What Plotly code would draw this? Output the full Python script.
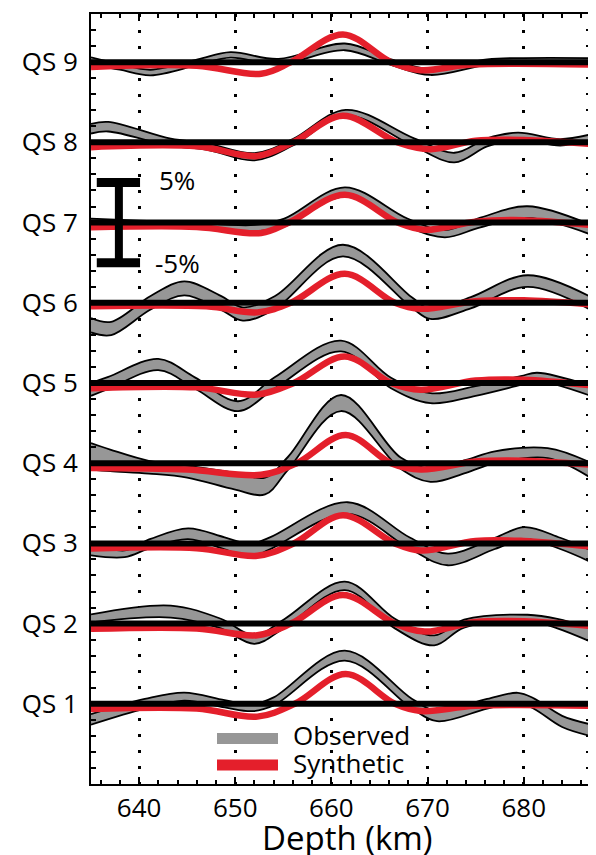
import plotly.graph_objects as go

# ---------------- data (depth in km, amplitude in %) ----------------
DEPTH_RANGE = [635, 687]
X_TICKS = [640, 650, 660, 670, 680]
QS_LABELS = ["QS 1", "QS 2", "QS 3", "QS 4", "QS 5", "QS 6", "QS 7", "QS 8", "QS 9"]
QS_OFFSETS = [10, 20, 30, 40, 50, 60, 70, 80, 90]
SCALE_BAR = [-5, 5]

# QS 1
QS1_OBS_KM = [635, 640.6, 644.7, 648.9, 651.8, 654, 661.4, 668.4, 671.0, 676.2, 679.4, 681.1, 684, 687]
QS1_OBS_PCT = [-1.95, 0, 0.9, 0, -0.5, 0.3, 6.0, 0, -1.55, 0, 0.75, 0, -2.2, -3.3]
QS1_OBS_HW = [0.65, 0.6, 0.5, 0.45, 0.42, 0.5, 0.62, 0.6, 0.62, 0.6, 0.62, 0.65, 0.7, 0.73]
QS1_SYN_KM = [635, 646, 652.3, 656.2, 661.5, 666.6, 669.3, 675, 687]
QS1_SYN_PCT = [-0.65, -0.6, -1.6, 0, 3.7, 0, -0.9, -0.25, -0.25]

# QS 2
QS2_OBS_KM = [635, 643.3, 648.5, 652.0, 655.1, 661.4, 666.6, 670.7, 673.8, 680.4, 683.5, 687]
QS2_OBS_PCT = [0.65, 1.5, 0, -2.0, 0, 4.7, 0, -2.1, 0, 0.75, 0, -1.45]
QS2_OBS_HW = [0.5, 0.75, 0.6, 0.52, 0.55, 0.52, 0.6, 0.62, 0.5, 0.35, 0.6, 0.83]
QS2_SYN_KM = [635, 646, 652.3, 655.8, 661.2, 666.6, 669.7, 675, 680, 687]
QS2_SYN_PCT = [-0.65, -0.6, -1.45, 0, 3.55, 0, -1.0, 0.2, 0.3, -0.3]

# QS 3
QS3_OBS_KM = [635, 638.5, 641.2, 645.1, 648.9, 651.6, 653.6, 661.7, 668.2, 672.1, 677, 680.1, 683.8, 687]
QS3_OBS_PCT = [-0.7, -1.3, 0, 1.2, 0, -0.9, 0, 4.4, 0, -2.0, 0, 1.3, 0, -1.6]
QS3_OBS_HW = [0.8, 0.42, 0.55, 0.67, 0.75, 0.83, 0.75, 0.73, 0.7, 0.73, 0.7, 0.73, 0.7, 0.73]
QS3_SYN_KM = [635, 646, 652.3, 656.1, 661.2, 666.6, 669.3, 675, 680, 687]
QS3_SYN_PCT = [-0.65, -0.6, -1.55, 0, 3.5, 0, -0.9, 0.3, 0.3, -0.4]

# QS 4
QS4_OBS_KM = [635, 637, 641, 645, 650, 653.1, 655.5, 661.0, 667.2, 670.3, 674, 677, 682.5, 687]
QS4_OBS_PCT = [0.85, 0.35, -0.5, -1.05, -2.25, -2.85, 0, 7.5, 0, -1.5, -0.4, 0.75, 1.25, -0.9]
QS4_OBS_HW = [1.65, 1.35, 0.8, 0.75, 1.05, 1.05, 0.8, 1.0, 0.7, 0.83, 0.8, 0.73, 0.62, 0.94]
QS4_SYN_KM = [635, 645, 652.7, 656.4, 661.5, 666.2, 669.3, 675, 680, 687]
QS4_SYN_PCT = [-0.6, -0.8, -1.45, 0, 3.5, 0, -0.8, 0.2, 0.3, -0.2]

# QS 5
QS5_OBS_KM = [635, 636.8, 642.0, 645.8, 650.3, 654.1, 661.0, 666.2, 670.3, 675, 679.7, 681.4, 687]
QS5_OBS_PCT = [-0.8, 0, 2.3, 0, -2.9, 0, 4.6, 0, -1.9, -1.0, 0.3, 0.75, -1.0]
QS5_OBS_HW = [0.8, 0.75, 0.7, 0.7, 0.62, 0.7, 0.67, 0.65, 0.62, 0.6, 0.55, 0.52, 0.62]
QS5_SYN_KM = [635, 646, 652.3, 656.1, 661.4, 666.2, 669.3, 675, 680, 687]
QS5_SYN_PCT = [-0.65, -0.55, -1.45, 0, 3.3, 0, -0.85, 0.3, 0.4, -0.3]

# QS 6
QS6_OBS_KM = [635, 637.1, 641.2, 644.7, 648.5, 650.8, 654.1, 661.2, 668.4, 670.3, 674.5, 680.4, 687]
QS6_OBS_PCT = [-2.8, -3.2, 0, 1.8, 0, -1.4, 0, 6.5, 0, -1.4, 0, 2.7, -0.1]
QS6_OBS_HW = [0.9, 0.83, 0.85, 0.87, 0.85, 0.83, 0.8, 0.73, 0.65, 0.62, 0.7, 0.73, 0.8]
QS6_SYN_KM = [635, 647, 652.3, 655.8, 661.4, 666.6, 669.3, 675, 680, 687]
QS6_SYN_PCT = [-0.45, -0.45, -1.2, 0, 3.6, 0, -0.75, 0.2, 0.3, -0.2]

# QS 7
QS7_OBS_KM = [635, 640, 645, 652, 655.1, 661.4, 667.9, 671.8, 675.5, 680.4, 687]
QS7_OBS_PCT = [0.1, -0.1, -0.3, -0.7, 0, 3.8, 0, -1.4, 0, 1.3, -0.9]
QS7_OBS_HW = [0.4, 0.35, 0.35, 0.4, 0.5, 0.58, 0.5, 0.45, 0.6, 0.73, 0.6]
QS7_SYN_KM = [635, 646, 652.7, 655.6, 661.4, 666.9, 669.7, 675, 680, 687]
QS7_SYN_PCT = [-0.6, -0.55, -1.3, 0, 3.45, 0, -0.9, 0.1, 0.3, -0.3]

# QS 8
QS8_OBS_KM = [635, 636.8, 643.3, 647, 652.0, 656.0, 661.5, 668.6, 672.8, 676.2, 679.4, 683.8, 687]
QS8_OBS_PCT = [1.7, 1.95, 0, -0.5, -1.8, 0, 3.7, 0, -1.9, 0, 0.8, 0.0, 0.6]
QS8_OBS_HW = [0.6, 0.6, 0.45, 0.4, 0.45, 0.4, 0.35, 0.5, 0.6, 0.5, 0.4, 0.4, 0.4]
QS8_SYN_KM = [635, 646, 652.3, 656, 661.2, 666.9, 670.3, 675, 680, 687]
QS8_SYN_PCT = [-0.6, -0.5, -1.7, 0, 3.3, 0, -0.85, 0.2, 0.3, -0.2]

# QS 9
QS9_OBS_KM = [635, 638, 641.2, 646.1, 649.5, 654.5, 661.4, 666.2, 670.3, 676.2, 680, 687]
QS9_OBS_PCT = [0.2, -0.6, -1.3, 0, 0.9, 0.05, 1.9, 0, -1.25, 0, 0.1, 0.1]
QS9_OBS_HW = [0.4, 0.35, 0.35, 0.35, 0.35, 0.35, 0.42, 0.35, 0.35, 0.35, 0.4, 0.4]
QS9_SYN_KM = [635, 646, 652.7, 655.8, 661.2, 666.2, 669.3, 674.5, 687]
QS9_SYN_PCT = [-0.6, -0.45, -1.45, 0, 3.45, 0, -1.0, -0.3, -0.3]

OBS_KM = [QS1_OBS_KM, QS2_OBS_KM, QS3_OBS_KM, QS4_OBS_KM, QS5_OBS_KM, QS6_OBS_KM, QS7_OBS_KM, QS8_OBS_KM, QS9_OBS_KM]
OBS_PCT = [QS1_OBS_PCT, QS2_OBS_PCT, QS3_OBS_PCT, QS4_OBS_PCT, QS5_OBS_PCT, QS6_OBS_PCT, QS7_OBS_PCT, QS8_OBS_PCT, QS9_OBS_PCT]
OBS_HW = [QS1_OBS_HW, QS2_OBS_HW, QS3_OBS_HW, QS4_OBS_HW, QS5_OBS_HW, QS6_OBS_HW, QS7_OBS_HW, QS8_OBS_HW, QS9_OBS_HW]
SYN_KM = [QS1_SYN_KM, QS2_SYN_KM, QS3_SYN_KM, QS4_SYN_KM, QS5_SYN_KM, QS6_SYN_KM, QS7_SYN_KM, QS8_SYN_KM, QS9_SYN_KM]
SYN_PCT = [QS1_SYN_PCT, QS2_SYN_PCT, QS3_SYN_PCT, QS4_SYN_PCT, QS5_SYN_PCT, QS6_SYN_PCT, QS7_SYN_PCT, QS8_SYN_PCT, QS9_SYN_PCT]

# ---------------- styles ----------------
FONT = "Open Sans"
GRAY = "#979797"
RED = "#e41f2b"
BLACK = "#000000"
SPL = dict(shape="spline", smoothing=1.0)

fig = go.Figure()

for i, off in enumerate(QS_OFFSETS):
    km = OBS_KM[i]
    lo = [off + c - h for c, h in zip(OBS_PCT[i], OBS_HW[i])]
    hi = [off + c + h for c, h in zip(OBS_PCT[i], OBS_HW[i])]
    fig.add_trace(go.Scatter(x=km, y=lo, mode="lines",
                             line=dict(color=BLACK, width=1.8, **SPL),
                             showlegend=False, hoverinfo="skip"))
    fig.add_trace(go.Scatter(x=km, y=hi, mode="lines", fill="tonexty", fillcolor=GRAY,
                             line=dict(color=BLACK, width=1.8, **SPL),
                             showlegend=False, hoverinfo="skip"))

for i, off in enumerate(QS_OFFSETS):
    fig.add_trace(go.Scatter(x=SYN_KM[i], y=[off + v for v in SYN_PCT[i]], mode="lines",
                             line=dict(color=RED, width=6.5, **SPL),
                             showlegend=False, hoverinfo="skip"))

for off in QS_OFFSETS:
    fig.add_trace(go.Scatter(x=DEPTH_RANGE, y=[off, off], mode="lines",
                             line=dict(color=BLACK, width=6),
                             showlegend=False, hoverinfo="skip"))

# ---------------- scale bar (around QS 7) ----------------
ref = QS_OFFSETS[6]
bar_x = 637.9
fig.add_shape(type="line", x0=bar_x, x1=bar_x, y0=ref + SCALE_BAR[0], y1=ref + SCALE_BAR[1],
              line=dict(color=BLACK, width=8))
for v in SCALE_BAR:
    fig.add_shape(type="line", x0=635.6, x1=640.1, y0=ref + v, y1=ref + v,
                  line=dict(color=BLACK, width=9))
fig.add_annotation(x=641.9, y=ref + SCALE_BAR[1] + 0.3, text="5%", showarrow=False,
                   xanchor="left", yanchor="middle", font=dict(family=FONT, size=26, color=BLACK))
fig.add_annotation(x=641.4, y=ref + SCALE_BAR[0] + 0.0, text="-5%", showarrow=False,
                   xanchor="left", yanchor="middle", font=dict(family=FONT, size=26, color=BLACK))

# ---------------- legend (drawn manually) ----------------
fig.add_shape(type="line", xref="paper", yref="paper", x0=0.252, x1=0.374, y0=0.0592, y1=0.0592,
              line=dict(color=GRAY, width=11))
fig.add_shape(type="line", xref="paper", yref="paper", x0=0.252, x1=0.374, y0=0.0246, y1=0.0246,
              line=dict(color=RED, width=11))
fig.add_annotation(xref="paper", yref="paper", x=0.400, y=0.063, text="Observed", showarrow=False,
                   xanchor="left", yanchor="middle", font=dict(family=FONT, size=26, color=BLACK))
fig.add_annotation(xref="paper", yref="paper", x=0.400, y=0.027, text="Synthetic", showarrow=False,
                   xanchor="left", yanchor="middle", font=dict(family=FONT, size=26, color=BLACK))

# ---------------- axis title ----------------
fig.add_annotation(xref="paper", yref="paper", x=0.512, y=-0.069, text="Depth (km)", showarrow=False,
                   xanchor="center", yanchor="middle", font=dict(family=FONT, size=33, color=BLACK))

# the page body adds an 8 px margin, so the figure is 8 px smaller and shifted
fig.update_layout(
    width=588, height=847,
    margin=dict(l=83, r=5, t=6, b=71, autoexpand=False),
    paper_bgcolor="white", plot_bgcolor="white",
    showlegend=False,
    font=dict(family=FONT, size=26, color=BLACK),
    xaxis=dict(range=DEPTH_RANGE, tickvals=X_TICKS, ticks="inside", ticklen=7, tickwidth=2,
               tickcolor=BLACK, showline=True, linecolor=BLACK, linewidth=2, mirror="ticks",
               showgrid=True, gridcolor=BLACK, gridwidth=2.5, griddash="3px,13px",
               zeroline=False, tickfont=dict(family=FONT, size=26, color=BLACK),
               minor=dict(dtick=2, tick0=0, ticks="inside", ticklen=4, tickwidth=2,
                          tickcolor=BLACK, showgrid=False)),
    yaxis=dict(range=[0, 96], tickvals=QS_OFFSETS, ticktext=QS_LABELS, ticks="inside", ticklen=5,
               tickwidth=2, tickcolor=BLACK, showline=True, linecolor=BLACK, linewidth=2,
               mirror="ticks", showgrid=False, zeroline=False, ticklabelstandoff=6,
               tickfont=dict(family=FONT, size=26, color=BLACK),
               minor=dict(dtick=2, tick0=0, ticks="inside", ticklen=5, tickwidth=2,
                          tickcolor=BLACK, showgrid=False)),
)

fig.write_html("out.html")
